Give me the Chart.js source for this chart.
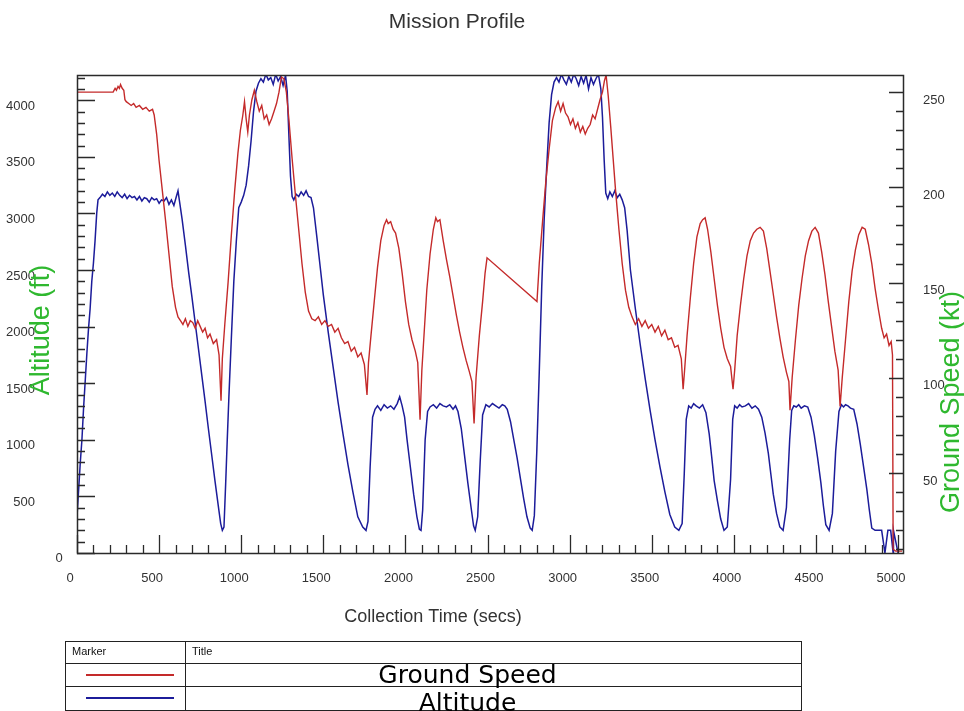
<!DOCTYPE html>
<html>
<head>
<meta charset="utf-8">
<script src="https://cdn.jsdelivr.net/npm/chart.js@4.4.1/dist/chart.umd.min.js"></script>
<style>
  html, body { margin: 0; padding: 0; background: #ffffff; }
  #wrap { position: relative; width: 964px; height: 711px; overflow: hidden; background: #fff; }
  #c { position: absolute; left: 0; top: 0; }
  #legend { position: absolute; left: 65px; top: 641px; width: 737px; height: 90px;
            border: 1px solid #222; box-sizing: border-box; font-family: Arial, "Liberation Sans", sans-serif; }
  #legend div { box-sizing: border-box; }
  .row { position: absolute; left: 0; right: 0; border-bottom: 1px solid #222; }
  .cell { position: absolute; top: 0; bottom: 0; }
  .c1 { left: 0; width: 120px; border-right: 1px solid #222; }
  .c2 { left: 120px; right: 0; }
  .hdr { font-size: 11px; color: #111; padding: 3px 0 0 6px; }
  .name { font-family: "DejaVu Sans", Verdana, sans-serif; font-size: 25px; color: #000;
          text-align: center; padding-right: 52px; line-height: 21px; white-space: nowrap; }
  .swatch { position: absolute; left: 20px; width: 88px; height: 1.5px; top: 10px; }
</style>
</head>
<body>
<div id="wrap">
  <canvas id="c" width="964" height="711"></canvas>
  <div id="legend"></div>
</div>
<script>
// Text
const chartTitle = 'Mission Profile';
const timeTitle = 'Collection Time (secs)';
const altTitle = 'Altitude (ft)';
const speedTitle = 'Ground Speed (kt)';
const seriesNames = ['Ground Speed', 'Altitude'];
const seriesColors = ['#c42a2a', '#1c1c9a'];
const axisTitleColor = '#2fb82f';

// Tick labels
const timeTicks = [0, 500, 1000, 1500, 2000, 2500, 3000, 3500, 4000, 4500, 5000];
const altTicks = [0, 500, 1000, 1500, 2000, 2500, 3000, 3500, 4000];
const speedTicks = [50, 100, 150, 200, 250];

// Ground speed (kt) against collection time (s)
const speedTime = [0, 220, 232, 240, 250, 258, 265, 275, 285, 292, 300, 315, 330, 345, 360, 380, 400, 420, 440, 460, 470,
  485, 500, 520, 540, 560, 580, 600, 615, 630, 645, 660, 675, 690, 705, 720, 735, 750, 765, 780, 795, 810, 830, 850, 865, 877,
  885, 900, 920, 940, 960, 980, 995, 1010, 1020, 1030, 1040, 1050, 1065, 1080, 1095, 1110, 1125, 1140, 1155, 1170, 1185,
  1200, 1215, 1230, 1245, 1260, 1275, 1290, 1310, 1330, 1350, 1370, 1390, 1410, 1430, 1450, 1470, 1490, 1510, 1530, 1550,
  1570, 1590, 1610, 1630, 1650, 1670, 1690, 1710, 1730, 1750, 1766, 1775, 1790, 1810, 1830, 1850, 1870, 1885, 1895, 1910,
  1925, 1940, 1960, 1980, 2000, 2020, 2040, 2060, 2075, 2089, 2100, 2115, 2130, 2150, 2170, 2185, 2195, 2210, 2230, 2250,
  2270, 2290, 2310, 2330, 2350, 2370, 2390, 2405, 2418, 2430, 2450, 2470, 2485, 2497,
  2801, 2815, 2835, 2855, 2875, 2895, 2915, 2930, 2945, 2960, 2975, 2990, 3005, 3020, 3035, 3050, 3065, 3080, 3095, 3110,
  3125, 3140, 3155, 3170, 3185, 3200, 3212, 3222, 3235, 3250, 3265, 3280, 3300, 3320, 3340, 3360, 3380, 3400, 3420, 3440,
  3460, 3480, 3500, 3520, 3540, 3560, 3580, 3600, 3620, 3640, 3660, 3680, 3691, 3700, 3715, 3735, 3755, 3775, 3795, 3810,
  3825, 3840, 3860, 3880, 3900, 3920, 3940, 3960, 3980, 3995, 4005, 4020, 4040, 4060, 4080, 4100, 4120, 4140, 4160, 4180,
  4200, 4220, 4240, 4260, 4280, 4300, 4320, 4335, 4342, 4355, 4375, 4395, 4415, 4435, 4455, 4475, 4495, 4515, 4535, 4555,
  4575, 4595, 4615, 4635, 4647, 4660, 4680, 4700, 4720, 4740, 4760, 4781, 4800, 4820, 4840, 4860, 4880, 4900, 4915, 4930,
  4945, 4958, 4966, 4970, 4985, 5000, 5025];
const speedKt = [250, 250, 252, 251, 253, 252, 254, 252, 251, 246, 245, 244, 243, 244, 242, 243, 241, 242, 240, 241, 238,
  228, 214, 198, 182, 165, 148, 137, 132, 130, 128, 131, 127, 130, 129, 126, 130, 127, 124, 126, 121, 123, 118, 120, 112, 88,
  110, 128, 150, 175, 198, 218, 230, 238, 245, 236, 229, 238, 246, 251, 245, 240, 243, 236, 238, 233, 236,
  240, 244, 250, 258, 257, 250, 236, 215, 196, 178, 160, 145, 135, 131, 130, 132, 128, 130, 127, 128,
  124, 126, 121, 118, 119, 114, 116, 111, 113, 107, 91, 108, 122, 140, 158, 172, 180, 183, 181, 182,
  178, 176, 168, 155, 140, 128, 120, 114, 108, 78, 104, 125, 146, 165, 178, 184, 182, 183, 172, 162,
  153, 143, 133, 124, 116, 109, 103, 98, 76, 100, 122, 140, 155, 163,
  140, 160, 182, 203, 220, 235, 242, 245, 240, 244, 239, 237, 233, 236, 231, 234, 229, 232, 228, 231,
  233, 238, 236, 241, 246, 250, 256, 259, 248, 232, 215, 198, 178, 160, 146, 137, 132, 128, 131, 127,
  130, 126, 128, 124, 127, 122, 125, 120, 121, 116, 117, 110, 94, 104, 122, 142, 160, 174, 181, 183,
  184, 178, 166, 152, 138, 126, 116, 110, 106, 94, 104, 122, 138, 152, 164, 172, 176, 178, 179, 177,
  168, 156, 144, 132, 121, 111, 103, 98, 83, 100, 120, 138, 152, 164, 172, 177, 179, 176, 166, 154,
  140, 127, 114, 104, 85, 100, 120, 140, 156, 167, 175, 179, 178, 170, 160, 147, 136, 126, 121, 123,
  117, 119, 112, 10, 9, 9, 9];

// Altitude (ft) against collection time (s)
const altTime = [0, 10, 20, 30, 40, 50, 60, 70, 80, 90, 100, 110, 120, 128, 140, 155, 170, 185, 200, 215, 230, 245, 260,
  275, 290, 305, 320, 335, 350, 365, 380, 395, 410, 425, 440, 455, 470, 485, 500, 515, 530, 545, 560, 575, 590, 605, 615,
  625, 640, 660, 680, 700, 720, 740, 760, 780, 800, 820, 840, 860, 875, 885, 895, 905, 915, 925, 940, 955, 970, 985,
  1000, 1015, 1030, 1045, 1060, 1075, 1090, 1105, 1120, 1135, 1150, 1165, 1180, 1195, 1210, 1225, 1240, 1255, 1270,
  1280, 1290, 1300, 1310, 1320, 1335, 1350, 1365, 1380, 1395, 1410, 1425, 1440, 1460, 1480, 1500, 1530, 1560, 1590,
  1620, 1650, 1680, 1710, 1740, 1760, 1772, 1785, 1800, 1815, 1830, 1850, 1870, 1890, 1910, 1930, 1950, 1965, 1980,
  1995, 2010, 2030, 2050, 2070, 2085, 2095, 2105, 2120, 2135, 2150, 2170, 2190, 2210, 2230, 2250, 2270, 2290, 2305,
  2320, 2340, 2360, 2380, 2400, 2415, 2425, 2440, 2455, 2470, 2490, 2510, 2530, 2550, 2570, 2590, 2605, 2620, 2640,
  2660, 2680, 2700, 2720, 2740, 2760, 2772, 2785, 2800, 2815, 2830, 2845, 2860, 2875, 2890, 2905, 2920, 2935, 2950,
  2965, 2980, 2995, 3010, 3025, 3040, 3055, 3070, 3085, 3100, 3115, 3130, 3145, 3160, 3175, 3190, 3200, 3210, 3220,
  3232, 3245, 3260, 3275, 3290, 3305, 3320, 3335, 3350, 3370, 3400, 3430, 3460, 3490, 3520, 3550, 3580, 3610, 3640,
  3665, 3685, 3698, 3710, 3725, 3740, 3755, 3770, 3790, 3810, 3830, 3850, 3865, 3880, 3900, 3920, 3940, 3960, 3980,
  3993, 4005, 4020, 4035, 4050, 4070, 4090, 4110, 4130, 4150, 4170, 4190, 4210, 4225, 4240, 4260, 4280, 4300, 4320,
  4340, 4352, 4365, 4380, 4395, 4410, 4430, 4450, 4470, 4490, 4510, 4530, 4545, 4560, 4580, 4600, 4620, 4640, 4655,
  4668, 4680, 4695, 4710, 4730, 4750, 4770, 4790, 4810, 4825, 4840, 4860, 4880, 4900, 4920, 4938, 4955, 4970, 4971,
  4973, 5000, 5001, 5003, 5022, 5023];
const altFt = [320, 560, 800, 1000, 1280, 1520, 1760, 1980, 2160, 2400, 2560, 2760, 3000, 3120, 3140, 3170, 3150, 3190,
  3160, 3180, 3150, 3190, 3160, 3140, 3170, 3130, 3160, 3140, 3150, 3120, 3150, 3110, 3140, 3130, 3100, 3140, 3120,
  3130, 3090, 3120, 3110, 3140, 3080, 3120, 3070, 3150, 3200, 3100, 2950, 2720, 2480, 2260, 2030, 1800, 1570, 1340,
  1100, 870, 640, 420, 260, 200, 230, 600, 1000, 1380, 1900, 2400, 2750, 3050, 3100, 3160, 3250, 3420, 3640, 3900,
  4080, 4150, 4190, 4160, 4230, 4180, 4200, 4140, 4230, 4170, 4210, 4130, 4220, 4080, 3700, 3330, 3150, 3120, 3170,
  3150, 3190, 3160, 3200, 3150, 3140, 3050, 2800, 2540, 2280, 1950, 1640, 1330, 1050, 780, 540, 320, 230, 200, 280,
  760, 1200, 1270, 1300, 1260, 1310, 1280, 1300, 1270, 1320, 1380, 1300, 1200, 1000, 760, 520, 320, 210, 200,
  380, 1000, 1250, 1290, 1310, 1280, 1320, 1300, 1290, 1310, 1270, 1300, 1250, 1100, 860, 620, 400, 240, 200, 320,
  800, 1220, 1310, 1290, 1320, 1300, 1280, 1310, 1300, 1270, 1160, 1000, 840, 660, 480, 320, 220, 200, 330, 900,
  1600, 2350, 2950, 3400, 3800, 4050, 4160, 4200, 4160, 4230, 4180, 4140, 4210, 4160, 4230, 4190, 4130, 4210, 4150,
  4220, 4100, 4200, 4140, 4190, 4230, 4100, 3850, 3480, 3180, 3130, 3190, 3150, 3200, 3140, 3170, 3120, 3050, 2850,
  2500, 2160, 1840, 1540, 1260, 1000, 760, 540, 340, 230, 200, 260, 700, 1180, 1300, 1280, 1320, 1300, 1280, 1310,
  1240, 1050, 850, 640, 460, 300, 200, 230, 650, 1180, 1300, 1280, 1310, 1290, 1300, 1320, 1280, 1300, 1270, 1200,
  1060, 880, 700, 520, 350, 230, 200, 400, 1000, 1260, 1300, 1290, 1310, 1280, 1300, 1290, 1200, 1040, 840, 620,
  420, 250, 200, 350, 900, 1250, 1310, 1290, 1310, 1300, 1280, 1270, 1140, 960, 760, 560, 380, 220, 200, 200, 200, 0,
  200, 200, 0, 200, 200, 0];

const fontFamily = 'Arial, "Liberation Sans", Helvetica, sans-serif';

// Frame, inward tick marks, the altitude origin label and axis titles
const framePlugin = {
  id: 'frame',
  afterDatasetsDraw(chart) {
    const { ctx, chartArea: a, scales } = chart;
    const x = scales.x, yL = scales.yAlt, yR = scales.ySpeed;
    ctx.save();
    ctx.strokeStyle = '#2a2a2a';
    ctx.lineWidth = 1.3;
    ctx.beginPath();
    for (let v = 0; v <= 5000; v += 100) {
      const px = Math.round(x.getPixelForValue(v)) + 0.5;
      const len = v % 500 === 0 ? 18 : 8;
      ctx.moveTo(px, a.bottom); ctx.lineTo(px, a.bottom - len);
    }
    for (let v = 0; v <= 4200; v += 100) {
      const py = Math.round(yL.getPixelForValue(v)) + 0.5;
      const len = v % 500 === 0 ? 18 : 8;
      ctx.moveTo(a.left, py); ctx.lineTo(a.left + len, py);
    }
    for (let v = 10; v <= 250; v += 10) {
      const py = Math.round(yR.getPixelForValue(v)) + 0.5;
      const len = v % 50 === 0 ? 14 : 7;
      ctx.moveTo(a.right, py); ctx.lineTo(a.right - len, py);
    }
    ctx.stroke();
    ctx.lineWidth = 1.5;
    ctx.strokeRect(Math.round(a.left) + 0.5, Math.round(a.top) + 0.5,
      Math.round(a.right - a.left), Math.round(a.bottom - a.top));

    // altitude origin label sits just inside the corner
    ctx.fillStyle = '#333';
    ctx.font = '13px ' + fontFamily;
    ctx.textAlign = 'center';
    ctx.textBaseline = 'middle';
    ctx.fillText(String(altTicks[0]), a.left - 18, yL.getPixelForValue(altTicks[0]) + 5);

    // titles
    ctx.font = '21px ' + fontFamily;
    ctx.fillText(chartTitle, 457, 22);
    ctx.font = '18px ' + fontFamily;
    ctx.fillText(timeTitle, 433, 617);

    ctx.fillStyle = axisTitleColor;
    ctx.font = '27px ' + fontFamily;
    ctx.save();
    ctx.translate(42, 330);
    ctx.rotate(-Math.PI / 2);
    ctx.fillText(altTitle, 0, 0);
    ctx.restore();
    ctx.save();
    ctx.translate(952, 402);
    ctx.rotate(-Math.PI / 2);
    ctx.fillText(speedTitle, 0, 0);
    ctx.restore();
    ctx.restore();
  }
};

const toPoints = (xs, ys) => xs.map((t, i) => ({ x: t, y: ys[i] }));
const tickFont = { family: fontFamily, size: 13 };
const plain = v => String(v);

new Chart(document.getElementById('c'), {
  type: 'line',
  data: {
    datasets: [
      { label: seriesNames[0], data: toPoints(speedTime, speedKt), yAxisID: 'ySpeed',
        borderColor: seriesColors[0], borderWidth: 1.4, pointRadius: 0, tension: 0 },
      { label: seriesNames[1], data: toPoints(altTime, altFt), yAxisID: 'yAlt',
        borderColor: seriesColors[1], borderWidth: 1.5, pointRadius: 0, tension: 0 }
    ]
  },
  options: {
    responsive: false,
    animation: false,
    events: [],
    layout: { padding: { top: 75, left: 0, right: 0, bottom: 0 } },
    plugins: { legend: { display: false }, tooltip: { enabled: false }, title: { display: false } },
    scales: {
      x: {
        type: 'linear', min: 0, max: 5030,
        afterBuildTicks: s => { s.ticks = timeTicks.map(v => ({ value: v })); },
        afterFit: s => { s.height = 158; },
        grid: { display: false }, border: { display: false },
        ticks: { color: '#333', font: tickFont, padding: 10, labelOffset: -7, maxRotation: 0, autoSkip: false, callback: plain }
      },
      yAlt: {
        position: 'left', min: 0, max: 4223,
        afterBuildTicks: s => { s.ticks = altTicks.map(v => ({ value: v })); },
        afterFit: s => { s.width = 77; },
        grid: { display: false }, border: { display: false },
        ticks: { color: '#333', font: tickFont, padding: 34, labelOffset: 6, autoSkip: false,
                 callback: v => (v === altTicks[0] ? '' : String(v)) }
      },
      ySpeed: {
        position: 'right', min: 8, max: 259,
        afterBuildTicks: s => { s.ticks = speedTicks.map(v => ({ value: v })); },
        afterFit: s => { s.width = 61; },
        grid: { display: false }, border: { display: false },
        ticks: { color: '#333', font: tickFont, padding: 12, labelOffset: 8, autoSkip: false, callback: plain }
      }
    }
  },
  plugins: [framePlugin]
});

// Legend table
const legend = document.getElementById('legend');
const rows = [{ top: 0, h: 22, header: true, pad: 0 }, { top: 22, h: 23, i: 0, pad: 0 }, { top: 45, h: 24, i: 1, pad: 5 }];
rows.forEach(r => {
  const row = document.createElement('div');
  row.className = 'row';
  row.style.top = r.top + 'px';
  row.style.height = r.h + 'px';
  const c1 = document.createElement('div');
  c1.className = 'cell c1';
  const c2 = document.createElement('div');
  c2.className = 'cell c2';
  if (r.header) {
    c1.classList.add('hdr'); c1.textContent = 'Marker';
    c2.classList.add('hdr'); c2.textContent = 'Title';
  } else {
    const sw = document.createElement('div');
    sw.className = 'swatch';
    sw.style.background = seriesColors[r.i];
    c1.appendChild(sw);
    c2.classList.add('name');
    c2.style.paddingTop = r.pad + 'px';
    c2.textContent = seriesNames[r.i];
  }
  row.appendChild(c1); row.appendChild(c2);
  legend.appendChild(row);
});
</script>
</body>
</html>
